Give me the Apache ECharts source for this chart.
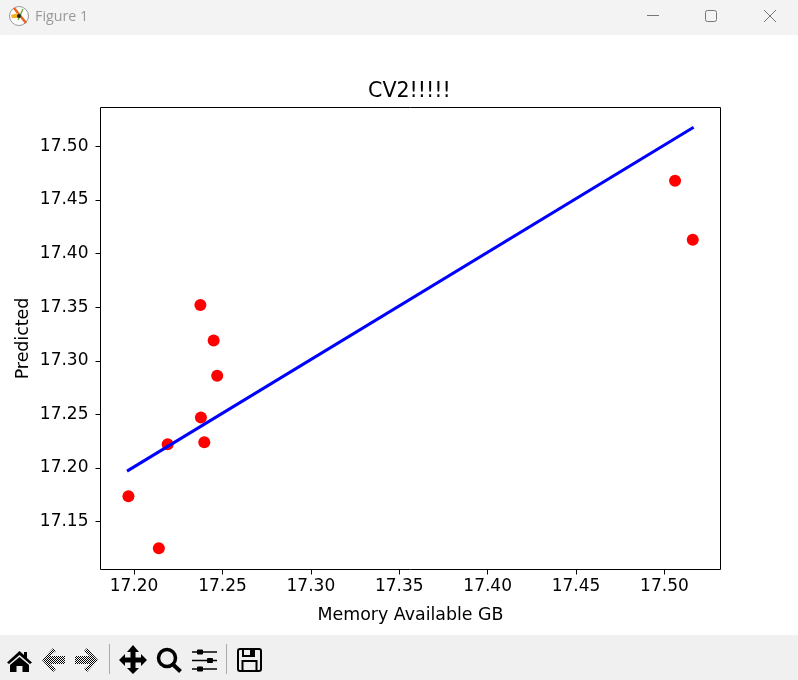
<!DOCTYPE html>
<html>
<head>
<meta charset="utf-8">
<style>html,body{margin:0;padding:0;background:#fff}#c{width:798px;height:680px}</style>
<script src="https://cdn.jsdelivr.net/npm/echarts@6/dist/echarts.min.js"></script>
</head>
<body>
<div id="c"></div>
<script>
const actual = [17.1968,17.214,17.219,17.2375,17.2378,17.2397,17.245,17.247,17.506,17.516];
const predicted = [17.1735,17.125,17.222,17.352,17.247,17.224,17.319,17.286,17.468,17.413];
const fitX = [17.196,17.5165];
const fitY = [17.197,17.518];
const xTicks = [17.20,17.25,17.30,17.35,17.40,17.45,17.50];
const yTicks = [17.15,17.20,17.25,17.30,17.35,17.40,17.45,17.50];
const titleText = 'CV2!!!!!';
const xName = 'Memory Available GB';
const yName = 'Predicted';
const windowTitle = 'Figure 1';

const FONT = 'DejaVu Sans';
const chart = echarts.init(document.getElementById('c'), null, {renderer:'canvas'});

const pc = document.createElement('canvas'); pc.width = 2; pc.height = 2;
const pctx = pc.getContext('2d');
pctx.fillStyle = '#fff'; pctx.fillRect(0,0,2,2);
pctx.fillStyle = '#000'; pctx.fillRect(0,0,1,1); pctx.fillRect(1,1,1,1);
const dither = {image: pc, repeat: 'repeat'};

const poly = (points, fill) => ({type:'polygon', shape:{points}, style:{fill}});
const rect = (x,y,w,h,fill,r) => ({type:'rect', shape:{x,y,width:w,height:h,r:r||0}, style:{fill}});
const line = (x1,y1,x2,y2,stroke,lw) => ({type:'line', shape:{x1,y1,x2,y2}, style:{stroke,lineWidth:lw||1}});

const chrome = [
  rect(0,0,798,35,'#f3f3f3'),
  rect(0,635,798,45,'#f0f0f0'),
  // app icon
  {type:'circle', shape:{cx:19,cy:16,r:9.5}, style:{fill:'#fff',stroke:'#999',lineWidth:1}},
  line(14,8,26,23,'#e8641b',2.5),
  poly([[11,15],[18,13],[18,18],[12,18]],'#f2b21c'),
  line(23,9,18,20,'#6cb33f',1.5),
  {type:'circle', shape:{cx:19,cy:16,r:2}, style:{fill:'#222'}},
  {type:'text', style:{text:windowTitle,x:35,y:16.5,fill:'#999',font:'14.3px "Open Sans"',textVerticalAlign:'middle'}},
  // window buttons
  line(647,15.5,659,15.5,'#777',1),
  {type:'rect', shape:{x:705.5,y:10.5,width:11,height:11,r:2}, style:{fill:'none',stroke:'#777',lineWidth:1}},
  line(764,10,776,22,'#777',1),
  line(776,10,764,22,'#777',1),
  // home
  poly([[19.5,651],[24,655],[24,652],[27,652],[27,658],[32,662.5],[30,664],[19.5,655],[9,664],[7,662.5]],'#000'),
  poly([[19.5,657],[29,665],[29,672],[22.5,672],[22.5,666],[16.5,666],[16.5,672],[10,672],[10,665]],'#000'),
  // back / forward
  poly([[42,660],[53,648],[56,651],[50,656],[65,656],[65,664],[50,664],[56,669],[53,672]],dither),
  poly([[98,660],[87,648],[84,651],[90,656],[75,656],[75,664],[90,664],[84,669],[87,672]],dither),
  line(109.5,644,109.5,674,'#aaa',1),
  // move
  poly([[133,645],[139,652],[135.5,652],[135.5,657.5],[141,657.5],[141,654],[147,660],[141,666],[141,662.5],[135.5,662.5],[135.5,668],[139,668],[133,674],[127,668],[130.5,668],[130.5,662.5],[125,662.5],[125,666],[119,660],[125,654],[125,657.5],[130.5,657.5],[130.5,652],[127,652]],'#000'),
  // zoom
  {type:'circle', shape:{cx:167,cy:658,r:8.5}, style:{fill:'none',stroke:'#000',lineWidth:3.5}},
  line(173,664.5,180.5,671.5,'#000',4),
  // sliders
  line(192,652,217,652,'#000',1.5), rect(197,649.5,6,5,'#000',1),
  line(192,660.5,217,660.5,'#000',1.5), rect(207,658,6,5,'#000',1),
  line(192,669,217,669,'#000',1.5), rect(197,666.5,6,5,'#000',1),
  line(226.5,644,226.5,674,'#aaa',1),
  // save
  {type:'rect', shape:{x:238,y:649,width:23,height:22,r:2}, style:{fill:'none',stroke:'#000',lineWidth:2}},
  {type:'rect', shape:{x:243,y:649,width:11,height:7}, style:{fill:'none',stroke:'#000',lineWidth:2}},
  rect(250,650,3,5,'#000'),
  {type:'rect', shape:{x:242.5,y:661,width:14,height:10}, style:{fill:'none',stroke:'#000',lineWidth:2}}
];

const axisCommon = {
  type:'value',
  nameLocation:'middle',
  nameMoveOverlap:false,
  nameTextStyle:{color:'#000',fontFamily:FONT,fontSize:17.4},
  axisLine:{show:false},
  splitLine:{show:false},
  axisTick:{show:true,length:5,lineStyle:{color:'#000',width:1}}
};

chart.setOption({
  animation:false,
  backgroundColor:'#fff',
  title:{text:titleText,left:363,top:76,textStyle:{color:'#000',fontFamily:FONT,fontSize:20.6,fontWeight:'normal'}},
  grid:{left:100.5,right:77.5,top:107.5,bottom:110.5,show:true,borderColor:'#000',borderWidth:1,backgroundColor:'#fff',containLabel:false,outerBoundsMode:'none'},
  xAxis:Object.assign({},axisCommon,{
    min:17.181,max:17.5317,name:xName,nameGap:37,
    axisTick:Object.assign({},axisCommon.axisTick,{customValues:xTicks}),
    axisLabel:{customValues:xTicks,margin:9,color:'#000',fontFamily:FONT,fontSize:17,formatter:v=>v.toFixed(2)}
  }),
  yAxis:Object.assign({},axisCommon,{
    min:17.1052,max:17.5364,name:yName,nameGap:69,
    axisTick:Object.assign({},axisCommon.axisTick,{customValues:yTicks}),
    axisLabel:{customValues:yTicks,margin:12,color:'#000',fontFamily:FONT,fontSize:17,formatter:v=>v.toFixed(2)}
  }),
  series:[
    {type:'scatter',data:actual.map((v,i)=>[v,predicted[i]]),symbol:'circle',symbolSize:12,itemStyle:{color:'#ff0000',opacity:1},z:2},
    {type:'line',data:fitX.map((v,i)=>[v,fitY[i]]),showSymbol:false,symbol:'none',lineStyle:{color:'#0000ff',width:3,cap:'butt'},z:3}
  ],
  graphic:{elements:chrome}
});
</script>
</body>
</html>
